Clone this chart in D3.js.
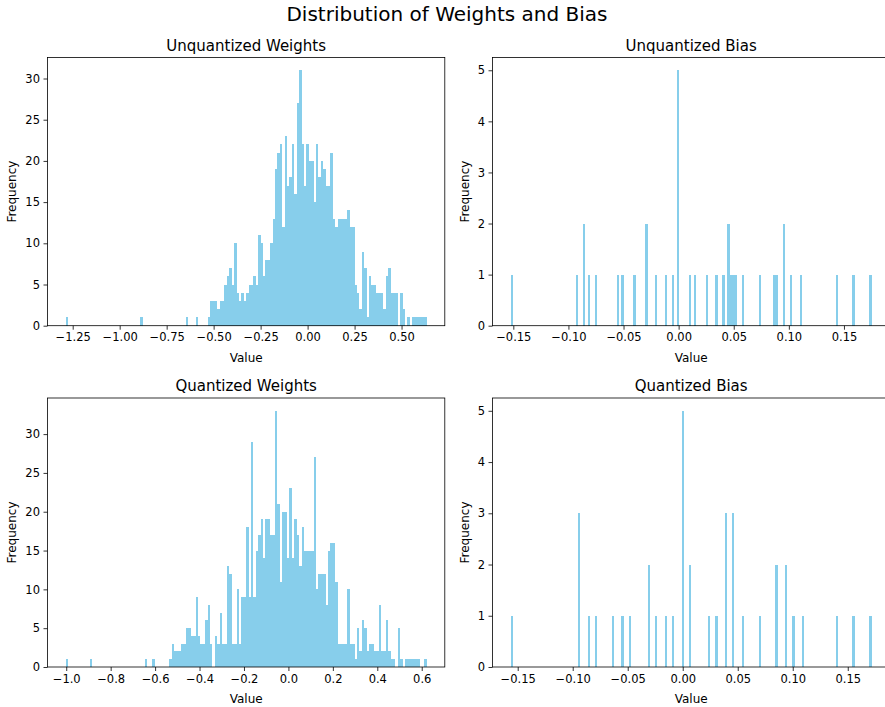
<!DOCTYPE html>
<html>
<head>
<meta charset="utf-8">
<script src="https://cdn.jsdelivr.net/npm/d3@7/dist/d3.min.js"></script>
<style>
  body { margin: 0; background: #fff; }
  svg text { font-family: "DejaVu Sans", sans-serif; fill: #000; }
  .axis path { display: none; }
  .axis line { stroke: #000; stroke-width: 0.8; }
  .axis text { font-size: 11.5px; }
  .bar { shape-rendering: crispEdges; }
</style>
</head>
<body>
<div id="chart"></div>
<script>

// ---- data ----

const nBins = 150;

// unquantized weights: histogram counts per bin, between these two edges
const unqWeightRange = [-1.288, 0.634];
const unqWeightCounts = [
  1, 0,0,0,0,0,0,0,0,0,0, 0,0,0,0,0,0,0,0,0,0, 0,0,0,0,0,0,0,0,0,0,
  1, 0,0,0,0,0,0,0,0,0,0,0,0,0,0,0,0,0,0,
  1, 0,0,0, 1, 0,0,0,0,
  1, 3,3,3,2,3,3,5,6,7,5,
  10,4,3,4,3,4,5,5,6,5,
  11,10,6,8,8,10,13,19,21,22,
  12,23,17,18,22,16,27,31,22,17,
  22,20,20,15,22,18,20,19,17,17,
  21,13,12,13,13,13,13,14,12,12,
  5,4,2,9,7,1,6,5,5,4,
  4,4,2,6,7,4,4,4,0,4,
  2,0,1,0,1,1,1,1,1,1
];

// quantized weights
const qWeightRange = [-1.003, 0.6226];
const qWeightCounts = [
  1, 0,0,0,0,0,0,0,0,0,
  1, 0,0,0,0,0,0,0,0,0,0,0,0,0,0,0,0,0,0,0,0,0,0,
  1, 0,0,
  1, 0,0,0,0,0,0,
  1,3,2,2,2,3,3,
  5,5,4,4,9,4,3,3,6,8,
  3,0,4,3,7,3,3,13,12,3,
  3,10,3,9,9,18,9,29,9,15,
  17,19,14,19,19,17,17,33,21,11,
  20,20,14,23,14,19,17,13,18,15,
  15,15,15,27,10,12,12,12,8,15,
  16,16,11,3,3,3,3,10,3,3,
  1,5,2,6,5,2,3,3,2,2,
  8,2,2,6,2,1,1,0,5,1,
  0,1,1,1,1,1,1,0,0,1
];

// bias values (distinct values and how often each occurs)
const unqBiasValues = [-0.1525, -0.0922, -0.0856, -0.0817, -0.0747, -0.0553, -0.0508, -0.0402,
  -0.0293, -0.0196, -0.0114, -0.0054, 0.0, 0.0106, 0.0145, 0.0251, 0.0342, 0.0408, 0.0454,
  0.0478, 0.0500, 0.0525, 0.0584, 0.0732, 0.0868, 0.0890, 0.0953, 0.1020, 0.1104, 0.1431,
  0.1582, 0.1752];
const unqBiasCounts = [1, 1, 2, 1, 1, 1, 1, 1,
  2, 1, 1, 1, 5, 1, 1, 1, 1, 1, 2,
  1, 1, 1, 1, 1, 1, 1, 2, 1, 1, 1,
  1, 1];

const qBiasValues = [-0.1565, -0.0941, -0.0850, -0.0786, -0.0635, -0.0547, -0.0483, -0.0305,
  -0.0235, -0.0153, -0.0093, 0.0, 0.0068, 0.0241, 0.0305, 0.0393, 0.0456, 0.0547, 0.0695,
  0.0850, 0.0938, 0.1002, 0.1090, 0.1395, 0.1547, 0.1718];
const qBiasCounts = [1, 3, 1, 1, 1, 1, 1, 2,
  1, 1, 1, 5, 2, 1, 1, 3, 3, 1, 1,
  2, 2, 1, 1, 1, 1, 1];

// tick labels
const unqWeightTicks = [-1.25, -1.00, -0.75, -0.50, -0.25, 0.00, 0.25, 0.50];
const qWeightTicks = [-1.0, -0.8, -0.6, -0.4, -0.2, 0.0, 0.2, 0.4, 0.6];
const biasTicks = [-0.15, -0.10, -0.05, 0.00, 0.05, 0.10, 0.15];
const weightYTicks = [0, 5, 10, 15, 20, 25, 30];
const biasYTicks = [0, 1, 2, 3, 4, 5];


// ---- helpers ----

// turn value/count pairs into histogram counts with d3.bin
function binBias(values, counts) {
  let raw = [];
  values.forEach((v, i) => { for (let k = 0; k < counts[i]; k++) raw.push(v); });
  let ext = d3.extent(raw);
  let step = (ext[1] - ext[0]) / nBins;
  let bins = d3.bin()
    .domain(ext)
    .thresholds(d3.range(1, nBins).map(k => ext[0] + k * step))(raw);
  return { range: ext, counts: bins.map(b => b.length) };
}


const width = 885, height = 707;

let svg = d3.select("#chart").append("svg")
  .attr("width", width)
  .attr("height", height);

svg.append("text")
  .attr("x", 447)
  .attr("y", 21)
  .attr("text-anchor", "middle")
  .style("font-size", "20px")
  .text("Distribution of Weights and Bias");

let ub = binBias(unqBiasValues, unqBiasCounts);
let qb = binBias(qBiasValues, qBiasCounts);

let panels = [
  { title: "Unquantized Weights", range: unqWeightRange, counts: unqWeightCounts,
    ticks: unqWeightTicks, fmt: ".2f", yTicks: weightYTicks,
    left: 47.5, right: 444.8, top: 57.5, bottom: 325.7, ylabOff: 32 },
  { title: "Unquantized Bias", range: ub.range, counts: ub.counts,
    ticks: biasTicks, fmt: ".2f", yTicks: biasYTicks,
    left: 492.5, right: 889.8, top: 57.5, bottom: 325.7, ylabOff: 24 },
  { title: "Quantized Weights", range: qWeightRange, counts: qWeightCounts,
    ticks: qWeightTicks, fmt: ".1f", yTicks: weightYTicks,
    left: 47.5, right: 444.8, top: 398, bottom: 667, ylabOff: 32 },
  { title: "Quantized Bias", range: qb.range, counts: qb.counts,
    ticks: biasTicks, fmt: ".2f", yTicks: biasYTicks,
    left: 492.5, right: 889.8, top: 398, bottom: 667, ylabOff: 24 }
];

panels.forEach(p => drawPanel(p));


function drawPanel(p) {
  let g = svg.append("g");
  let lo = p.range[0], hi = p.range[1];
  let pad = (hi - lo) * 0.05;
  let bw = (hi - lo) / nBins;

  let x = d3.scaleLinear()
    .domain([lo - pad, hi + pad])
    .range([p.left, p.right]);

  let y = d3.scaleLinear()
    .domain([0, d3.max(p.counts) * 1.05])
    .range([p.bottom, p.top]);

  let bars = p.counts
    .map((n, i) => ({ x0: lo + i * bw, x1: lo + (i + 1) * bw, n: n }))
    .filter(d => d.n > 0);

  g.selectAll(".bar")
    .data(bars)
    .enter().append("rect")
    .attr("class", "bar")
    .attr("x", d => x(d.x0))
    .attr("width", d => x(d.x1) - x(d.x0))
    .attr("y", d => y(d.n))
    .attr("height", d => y(0) - y(d.n))
    .attr("fill", "skyblue");

  // axes
  g.append("g")
    .attr("class", "axis")
    .attr("transform", `translate(0, ${p.bottom})`)
    .call(d3.axisBottom(x).tickValues(p.ticks).tickFormat(d3.format(p.fmt))
      .tickSize(4).tickPadding(3.5));

  g.append("g")
    .attr("class", "axis")
    .attr("transform", `translate(${p.left}, 0)`)
    .call(d3.axisLeft(y).tickValues(p.yTicks).tickFormat(d3.format("d"))
      .tickSize(4).tickPadding(3.5));

  // frame
  g.append("rect")
    .attr("x", p.left)
    .attr("y", p.top)
    .attr("width", p.right - p.left)
    .attr("height", p.bottom - p.top)
    .attr("fill", "none")
    .attr("stroke", "#000")
    .attr("stroke-width", 0.8);

  // titles + labels
  g.append("text")
    .attr("x", (p.left + p.right) / 2)
    .attr("y", p.top - 7)
    .attr("text-anchor", "middle")
    .style("font-size", "15px")
    .text(p.title);

  g.append("text")
    .attr("x", (p.left + p.right) / 2)
    .attr("y", p.bottom + 36)
    .attr("text-anchor", "middle")
    .style("font-size", "12px")
    .text("Value");

  g.append("text")
    .attr("transform", `translate(${p.left - p.ylabOff}, ${(p.top + p.bottom) / 2}) rotate(-90)`)
    .attr("text-anchor", "middle")
    .style("font-size", "12px")
    .text("Frequency");
}

</script>
</body>
</html>
